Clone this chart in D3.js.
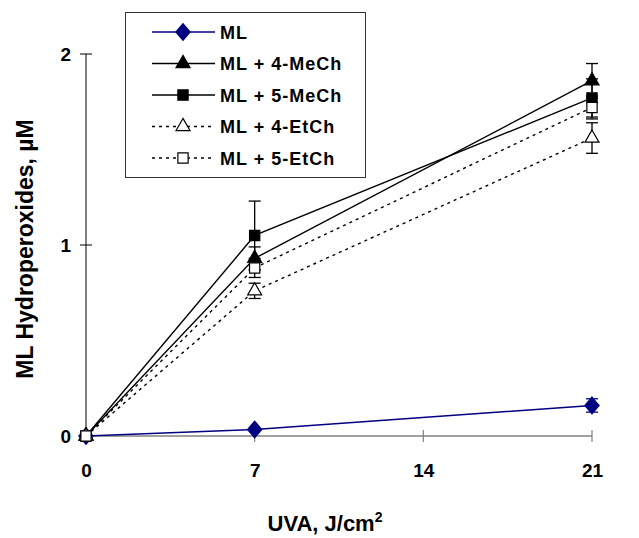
<!DOCTYPE html>
<html>
<head>
<meta charset="utf-8">
<script src="https://cdn.jsdelivr.net/npm/d3@7"></script>
<style>
  body { margin: 0; background: #fff; }
  text { font-family: Arial, "Liberation Sans", sans-serif; font-weight: bold; }
</style>
</head>
<body>
<div id="chart"></div>
<script>
// UVA doses
const doses = [0, 7, 21];
const xTicks = [0, 7, 14, 21];
const yTicks = [0, 1, 2];

// series names
const seriesNames = ["ML", "ML + 4-MeCh", "ML + 5-MeCh", "ML + 4-EtCh", "ML + 5-EtCh"];

// means
const mlVals   = [0, 0.034, 0.16];
const me4Vals  = [0, 0.93, 1.86];
const me5Vals  = [0, 1.05, 1.77];
const et4Vals  = [0, 0.76, 1.56];
const et5Vals  = [0, 0.88, 1.72];

// error bars (SD)
const mlErr  = [0, 0, 0.035];
const me4Err = [0, 0.06, 0.09];
const me5Err = [0, 0.18, 0.10];
const et4Err = [0, 0.04, 0.08];
const et5Err = [0, 0.05, 0.06];

const width = 639, height = 538;
const margin = { top: 54, right: 47, bottom: 102, left: 86 };
const w = width - margin.left - margin.right;
const h = height - margin.top - margin.bottom;

const svg = d3.select("#chart").append("svg")
    .attr("width", width)
    .attr("height", height);

const g = svg.append("g")
    .attr("transform", `translate(${margin.left}, ${margin.top})`);

const x = d3.scaleLinear([0, 21], [0, w]);
const y = d3.scaleLinear([0, 2], [h, 0]);

// y axis
const yAxis = g.append("g").call(d3.axisLeft(y).tickValues(yTicks).tickFormat(d3.format("d")).tickSize(0));
yAxis.select(".domain").remove();
yAxis.selectAll("text").attr("x", -15).attr("font-size", 19).attr("fill", "#000");
g.append("line").attr("x1", 0).attr("x2", 0).attr("y1", 0).attr("y2", h).attr("stroke", "#000");
g.append("g").selectAll("line").data(yTicks).join("line")
    .attr("x1", -6).attr("x2", 6)
    .attr("y1", d => y(d)).attr("y2", d => y(d))
    .attr("stroke", "#000");

// x axis
const xAxis = g.append("g").attr("transform", `translate(0, ${h})`)
    .call(d3.axisBottom(x).tickValues(xTicks).tickSize(0));
xAxis.select(".domain").remove();
xAxis.selectAll("text").attr("y", 28).attr("font-size", 19).attr("fill", "#000");
g.append("line").attr("x1", 0).attr("x2", w).attr("y1", h).attr("y2", h).attr("stroke", "#808080").attr("stroke-width", 1.5);
g.append("g").selectAll("line").data(xTicks.slice(1)).join("line")
    .attr("x1", d => x(d)).attr("x2", d => x(d))
    .attr("y1", h - 6).attr("y2", h + 6)
    .attr("stroke", "#808080").attr("stroke-width", 1.2);

// axis titles
svg.append("text")
    .attr("x", 325).attr("y", 531)
    .attr("text-anchor", "middle").attr("font-size", 22)
    .html('UVA, J/cm<tspan dy="-9" font-size="14">2</tspan>');

svg.append("text")
    .attr("transform", "translate(33, 249) rotate(-90)")
    .attr("text-anchor", "middle").attr("font-size", 23)
    .text("ML Hydroperoxides, \u00b5M");

const series = [
  { name: seriesNames[0], vals: mlVals,  err: mlErr,  color: "#000080", dash: null,  shape: d3.symbolDiamond, fill: "#000080", size: 110 },
  { name: seriesNames[1], vals: me4Vals, err: me4Err, color: "#000",    dash: null,  shape: d3.symbolTriangle, fill: "#000", size: 85 },
  { name: seriesNames[2], vals: me5Vals, err: me5Err, color: "#000",    dash: null,  shape: d3.symbolSquare, fill: "#000", size: 105 },
  { name: seriesNames[3], vals: et4Vals, err: et4Err, color: "#000",    dash: "3,4", shape: d3.symbolTriangle, fill: "#fff", size: 85 },
  { name: seriesNames[4], vals: et5Vals, err: et5Err, color: "#000",    dash: "3,4", shape: d3.symbolSquare, fill: "#fff", size: 105 }
];

const line = d3.line().x(d => x(d[0])).y(d => y(d[1]));

series.forEach(s => {
  const pts = doses.map((d, i) => [d, s.vals[i], s.err[i]]);
  const sg = g.append("g");
  // error bars
  pts.filter(p => p[2] > 0).forEach(p => {
    sg.append("line").attr("x1", x(p[0])).attr("x2", x(p[0]))
      .attr("y1", y(p[1] - p[2])).attr("y2", y(p[1] + p[2]))
      .attr("stroke", s.color).attr("stroke-width", 1.3);
    [p[1] - p[2], p[1] + p[2]].forEach(v => {
      sg.append("line").attr("x1", x(p[0]) - 6).attr("x2", x(p[0]) + 6)
        .attr("y1", y(v)).attr("y2", y(v))
        .attr("stroke", s.color).attr("stroke-width", 1.3);
    });
  });
  sg.append("path").datum(pts)
    .attr("d", line)
    .attr("fill", "none")
    .attr("stroke", s.color)
    .attr("stroke-width", 1.4)
    .attr("stroke-dasharray", s.dash);
  sg.selectAll("path.m").data(pts).join("path")
    .attr("class", "m")
    .attr("transform", p => `translate(${x(p[0])}, ${y(p[1])})${s.shape === d3.symbolDiamond ? " scale(1.25,0.85)" : ""}`)
    .attr("d", d3.symbol(s.shape, s.size))
    .attr("fill", s.fill)
    .attr("stroke", s.color)
    .attr("stroke-width", 1.2);
});

// legend
const lg = svg.append("g");
lg.append("rect").attr("x", 125.5).attr("y", 12.5).attr("width", 240).attr("height", 165)
  .attr("fill", "#fff").attr("stroke", "#333").attr("stroke-width", 1);

series.forEach((s, i) => {
  const ly = 32 + i * 31.5;
  lg.append("line").attr("x1", 152).attr("x2", 215).attr("y1", ly).attr("y2", ly)
    .attr("stroke", s.color).attr("stroke-width", 1.4).attr("stroke-dasharray", s.dash);
  lg.append("path")
    .attr("transform", `translate(183, ${ly})${s.shape === d3.symbolDiamond ? " scale(1.25,0.85)" : ""}`)
    .attr("d", d3.symbol(s.shape, s.size))
    .attr("fill", s.fill).attr("stroke", s.color).attr("stroke-width", 1.2);
  lg.append("text").attr("x", 220).attr("y", ly + 6.5)
    .attr("font-size", 18).attr("letter-spacing", 1).text(s.name);
});
</script>
</body>
</html>
